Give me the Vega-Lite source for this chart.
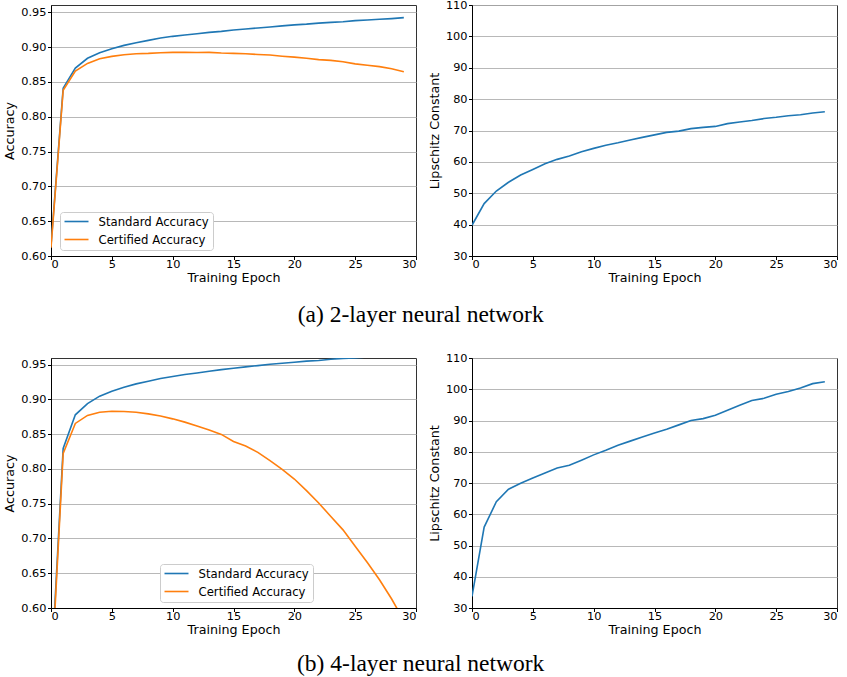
{
  "$schema": "https://vega.github.io/schema/vega-lite/v6.json",
  "padding": {"left": 3, "top": -2, "right": 0, "bottom": 0},
  "background": "white",
  "spacing": 24,
  "resolve": {"scale": {"color": "independent"}, "legend": {"color": "independent"}},
  "config": {
    "font": "DejaVu Sans",
    "view": {"stroke": "#333333", "strokeWidth": 1},
    "axis": {
      "labelFont": "DejaVu Sans", "labelFontSize": 11.3, "labelColor": "#000000",
      "titleFont": "DejaVu Sans", "titleFontSize": 12.7, "titleFontWeight": "normal", "titleColor": "#000000",
      "domainColor": "#000000", "tickColor": "#000000", "tickSize": 3.5, "labelPadding": 1.5,
      "gridColor": "#b0b0b0", "gridWidth": 0.9
    },
    "axisX": {"grid": false, "titlePadding": 2, "labelPadding": -1},
    "axisY": {"grid": true, "titlePadding": 4, "labelPadding": 1.5},
    "legend": {
      "labelFont": "DejaVu Sans", "labelFontSize": 11.7, "labelColor": "#000000",
      "fillColor": "#ffffff", "strokeColor": "#cccccc", "cornerRadius": 3, "padding": 3.5,
      "symbolType": "M-1,0H3.8", "symbolStrokeWidth": 1.6, "symbolSize": 100, "rowPadding": 5, "labelOffset": 23
    },
    "title": {"font": "Liberation Serif", "fontSize": 23.5, "fontWeight": "normal", "color": "#000000"},
    "concat": {"spacing": 10}
  },
  "datasets": {
    "acc2": [
      {"epoch": 0, "series": "Standard Accuracy", "value": 0.615},
      {"epoch": 1, "series": "Standard Accuracy", "value": 0.841},
      {"epoch": 2, "series": "Standard Accuracy", "value": 0.870},
      {"epoch": 3, "series": "Standard Accuracy", "value": 0.884},
      {"epoch": 4, "series": "Standard Accuracy", "value": 0.892},
      {"epoch": 5, "series": "Standard Accuracy", "value": 0.8977},
      {"epoch": 6, "series": "Standard Accuracy", "value": 0.9025},
      {"epoch": 7, "series": "Standard Accuracy", "value": 0.9063},
      {"epoch": 8, "series": "Standard Accuracy", "value": 0.9097},
      {"epoch": 9, "series": "Standard Accuracy", "value": 0.913},
      {"epoch": 10, "series": "Standard Accuracy", "value": 0.9155},
      {"epoch": 11, "series": "Standard Accuracy", "value": 0.9174},
      {"epoch": 12, "series": "Standard Accuracy", "value": 0.9193},
      {"epoch": 13, "series": "Standard Accuracy", "value": 0.9212},
      {"epoch": 14, "series": "Standard Accuracy", "value": 0.9226},
      {"epoch": 15, "series": "Standard Accuracy", "value": 0.9245},
      {"epoch": 16, "series": "Standard Accuracy", "value": 0.926},
      {"epoch": 17, "series": "Standard Accuracy", "value": 0.9275},
      {"epoch": 18, "series": "Standard Accuracy", "value": 0.929},
      {"epoch": 19, "series": "Standard Accuracy", "value": 0.9305},
      {"epoch": 20, "series": "Standard Accuracy", "value": 0.932},
      {"epoch": 21, "series": "Standard Accuracy", "value": 0.933},
      {"epoch": 22, "series": "Standard Accuracy", "value": 0.9345},
      {"epoch": 23, "series": "Standard Accuracy", "value": 0.9355},
      {"epoch": 24, "series": "Standard Accuracy", "value": 0.9365},
      {"epoch": 25, "series": "Standard Accuracy", "value": 0.938},
      {"epoch": 26, "series": "Standard Accuracy", "value": 0.939},
      {"epoch": 27, "series": "Standard Accuracy", "value": 0.940},
      {"epoch": 28, "series": "Standard Accuracy", "value": 0.941},
      {"epoch": 29, "series": "Standard Accuracy", "value": 0.9423},
      {"epoch": 0, "series": "Certified Accuracy", "value": 0.612},
      {"epoch": 1, "series": "Certified Accuracy", "value": 0.838},
      {"epoch": 2, "series": "Certified Accuracy", "value": 0.8656},
      {"epoch": 3, "series": "Certified Accuracy", "value": 0.8766},
      {"epoch": 4, "series": "Certified Accuracy", "value": 0.8833},
      {"epoch": 5, "series": "Certified Accuracy", "value": 0.8867},
      {"epoch": 6, "series": "Certified Accuracy", "value": 0.889},
      {"epoch": 7, "series": "Certified Accuracy", "value": 0.8905},
      {"epoch": 8, "series": "Certified Accuracy", "value": 0.891},
      {"epoch": 9, "series": "Certified Accuracy", "value": 0.892},
      {"epoch": 10, "series": "Certified Accuracy", "value": 0.8924},
      {"epoch": 11, "series": "Certified Accuracy", "value": 0.8924},
      {"epoch": 12, "series": "Certified Accuracy", "value": 0.8923},
      {"epoch": 13, "series": "Certified Accuracy", "value": 0.8925},
      {"epoch": 14, "series": "Certified Accuracy", "value": 0.8915},
      {"epoch": 15, "series": "Certified Accuracy", "value": 0.891},
      {"epoch": 16, "series": "Certified Accuracy", "value": 0.8905},
      {"epoch": 17, "series": "Certified Accuracy", "value": 0.8895},
      {"epoch": 18, "series": "Certified Accuracy", "value": 0.8886},
      {"epoch": 19, "series": "Certified Accuracy", "value": 0.887},
      {"epoch": 20, "series": "Certified Accuracy", "value": 0.8857},
      {"epoch": 21, "series": "Certified Accuracy", "value": 0.884},
      {"epoch": 22, "series": "Certified Accuracy", "value": 0.882},
      {"epoch": 23, "series": "Certified Accuracy", "value": 0.881},
      {"epoch": 24, "series": "Certified Accuracy", "value": 0.879},
      {"epoch": 25, "series": "Certified Accuracy", "value": 0.876},
      {"epoch": 26, "series": "Certified Accuracy", "value": 0.874},
      {"epoch": 27, "series": "Certified Accuracy", "value": 0.872},
      {"epoch": 28, "series": "Certified Accuracy", "value": 0.869},
      {"epoch": 29, "series": "Certified Accuracy", "value": 0.8646}
    ],
    "lip2": [
      {"epoch": 0, "value": 39.8}, {"epoch": 1, "value": 46.7}, {"epoch": 2, "value": 50.7},
      {"epoch": 3, "value": 53.5}, {"epoch": 4, "value": 55.8}, {"epoch": 5, "value": 57.6},
      {"epoch": 6, "value": 59.4}, {"epoch": 7, "value": 60.8}, {"epoch": 8, "value": 61.9},
      {"epoch": 9, "value": 63.2}, {"epoch": 10, "value": 64.3}, {"epoch": 11, "value": 65.3},
      {"epoch": 12, "value": 66.1}, {"epoch": 13, "value": 67.0}, {"epoch": 14, "value": 67.8},
      {"epoch": 15, "value": 68.6}, {"epoch": 16, "value": 69.4}, {"epoch": 17, "value": 69.8},
      {"epoch": 18, "value": 70.6}, {"epoch": 19, "value": 71.0}, {"epoch": 20, "value": 71.3},
      {"epoch": 21, "value": 72.2}, {"epoch": 22, "value": 72.7}, {"epoch": 23, "value": 73.2},
      {"epoch": 24, "value": 73.8}, {"epoch": 25, "value": 74.2}, {"epoch": 26, "value": 74.7},
      {"epoch": 27, "value": 75.0}, {"epoch": 28, "value": 75.6}, {"epoch": 29, "value": 76.0}
    ],
    "acc4": [
      {"epoch": 0, "series": "Standard Accuracy", "value": 0.50},
      {"epoch": 1, "series": "Standard Accuracy", "value": 0.8295},
      {"epoch": 2, "series": "Standard Accuracy", "value": 0.8778},
      {"epoch": 3, "series": "Standard Accuracy", "value": 0.894},
      {"epoch": 4, "series": "Standard Accuracy", "value": 0.9046},
      {"epoch": 5, "series": "Standard Accuracy", "value": 0.9118},
      {"epoch": 6, "series": "Standard Accuracy", "value": 0.9175},
      {"epoch": 7, "series": "Standard Accuracy", "value": 0.9223},
      {"epoch": 8, "series": "Standard Accuracy", "value": 0.9261},
      {"epoch": 9, "series": "Standard Accuracy", "value": 0.930},
      {"epoch": 10, "series": "Standard Accuracy", "value": 0.9328},
      {"epoch": 11, "series": "Standard Accuracy", "value": 0.9357},
      {"epoch": 12, "series": "Standard Accuracy", "value": 0.938},
      {"epoch": 13, "series": "Standard Accuracy", "value": 0.9404},
      {"epoch": 14, "series": "Standard Accuracy", "value": 0.9428},
      {"epoch": 15, "series": "Standard Accuracy", "value": 0.9447},
      {"epoch": 16, "series": "Standard Accuracy", "value": 0.9467},
      {"epoch": 17, "series": "Standard Accuracy", "value": 0.9486},
      {"epoch": 18, "series": "Standard Accuracy", "value": 0.9505},
      {"epoch": 19, "series": "Standard Accuracy", "value": 0.952},
      {"epoch": 20, "series": "Standard Accuracy", "value": 0.9534},
      {"epoch": 21, "series": "Standard Accuracy", "value": 0.955},
      {"epoch": 22, "series": "Standard Accuracy", "value": 0.956},
      {"epoch": 23, "series": "Standard Accuracy", "value": 0.9577},
      {"epoch": 24, "series": "Standard Accuracy", "value": 0.959},
      {"epoch": 25, "series": "Standard Accuracy", "value": 0.9597},
      {"epoch": 26, "series": "Standard Accuracy", "value": 0.961},
      {"epoch": 27, "series": "Standard Accuracy", "value": 0.962},
      {"epoch": 28, "series": "Standard Accuracy", "value": 0.9635},
      {"epoch": 29, "series": "Standard Accuracy", "value": 0.965},
      {"epoch": 0, "series": "Certified Accuracy", "value": 0.49},
      {"epoch": 1, "series": "Certified Accuracy", "value": 0.8223},
      {"epoch": 2, "series": "Certified Accuracy", "value": 0.8654},
      {"epoch": 3, "series": "Certified Accuracy", "value": 0.8769},
      {"epoch": 4, "series": "Certified Accuracy", "value": 0.8816},
      {"epoch": 5, "series": "Certified Accuracy", "value": 0.883},
      {"epoch": 6, "series": "Certified Accuracy", "value": 0.8826},
      {"epoch": 7, "series": "Certified Accuracy", "value": 0.8816},
      {"epoch": 8, "series": "Certified Accuracy", "value": 0.8792},
      {"epoch": 9, "series": "Certified Accuracy", "value": 0.876},
      {"epoch": 10, "series": "Certified Accuracy", "value": 0.872},
      {"epoch": 11, "series": "Certified Accuracy", "value": 0.8673},
      {"epoch": 12, "series": "Certified Accuracy", "value": 0.8616},
      {"epoch": 13, "series": "Certified Accuracy", "value": 0.8558},
      {"epoch": 14, "series": "Certified Accuracy", "value": 0.8496},
      {"epoch": 15, "series": "Certified Accuracy", "value": 0.8395},
      {"epoch": 16, "series": "Certified Accuracy", "value": 0.8329},
      {"epoch": 17, "series": "Certified Accuracy", "value": 0.8238},
      {"epoch": 18, "series": "Certified Accuracy", "value": 0.8118},
      {"epoch": 19, "series": "Certified Accuracy", "value": 0.7994},
      {"epoch": 20, "series": "Certified Accuracy", "value": 0.7855},
      {"epoch": 21, "series": "Certified Accuracy", "value": 0.7688},
      {"epoch": 22, "series": "Certified Accuracy", "value": 0.7511},
      {"epoch": 23, "series": "Certified Accuracy", "value": 0.7315},
      {"epoch": 24, "series": "Certified Accuracy", "value": 0.7124},
      {"epoch": 25, "series": "Certified Accuracy", "value": 0.6889},
      {"epoch": 26, "series": "Certified Accuracy", "value": 0.6655},
      {"epoch": 27, "series": "Certified Accuracy", "value": 0.6406},
      {"epoch": 28, "series": "Certified Accuracy", "value": 0.6129},
      {"epoch": 29, "series": "Certified Accuracy", "value": 0.582}
    ],
    "lip4": [
      {"epoch": 0, "value": 33.7}, {"epoch": 1, "value": 55.9}, {"epoch": 2, "value": 64.0},
      {"epoch": 3, "value": 68.0}, {"epoch": 4, "value": 69.9}, {"epoch": 5, "value": 71.6},
      {"epoch": 6, "value": 73.2}, {"epoch": 7, "value": 74.8}, {"epoch": 8, "value": 75.7},
      {"epoch": 9, "value": 77.3}, {"epoch": 10, "value": 79.0}, {"epoch": 11, "value": 80.5},
      {"epoch": 12, "value": 82.1}, {"epoch": 13, "value": 83.4}, {"epoch": 14, "value": 84.7},
      {"epoch": 15, "value": 86.0}, {"epoch": 16, "value": 87.2}, {"epoch": 17, "value": 88.6},
      {"epoch": 18, "value": 90.0}, {"epoch": 19, "value": 90.6}, {"epoch": 20, "value": 91.7},
      {"epoch": 21, "value": 93.3}, {"epoch": 22, "value": 94.9}, {"epoch": 23, "value": 96.4},
      {"epoch": 24, "value": 97.1}, {"epoch": 25, "value": 98.4}, {"epoch": 26, "value": 99.3},
      {"epoch": 27, "value": 100.4}, {"epoch": 28, "value": 101.8}, {"epoch": 29, "value": 102.4}
    ]
  },
  "vconcat": [
    {
      "title": {"text": "(a) 2-layer neural network", "orient": "bottom", "anchor": "middle", "offset": 18},
      "hconcat": [
        {
          "width": 365, "height": 251,
          "data": {"name": "acc2"},
          "mark": {"type": "line", "strokeWidth": 1.6, "clip": true},
          "encoding": {
            "x": {"field": "epoch", "type": "quantitative", "title": "Training Epoch",
                  "scale": {"domain": [0, 30], "nice": false, "zero": false},
                  "axis": {"values": [0, 5, 10, 15, 20, 25, 30]}},
            "y": {"field": "value", "type": "quantitative", "title": "Accuracy",
                  "scale": {"domain": [0.6, 0.9605], "nice": false, "zero": false},
                  "axis": {"values": [0.6, 0.65, 0.7, 0.75, 0.8, 0.85, 0.9, 0.95], "format": ".2f"}},
            "color": {"field": "series", "type": "nominal",
                      "scale": {"domain": ["Standard Accuracy", "Certified Accuracy"], "range": ["#1f77b4", "#ff7f0e"]},
                      "legend": {"title": null, "orient": "none", "legendX": 9, "legendY": 207}}
          }
        },
        {
          "width": 365, "height": 251,
          "data": {"name": "lip2"},
          "mark": {"type": "line", "strokeWidth": 1.6, "color": "#1f77b4", "clip": true},
          "encoding": {
            "x": {"field": "epoch", "type": "quantitative", "title": "Training Epoch",
                  "scale": {"domain": [0, 30], "nice": false, "zero": false},
                  "axis": {"values": [0, 5, 10, 15, 20, 25, 30]}},
            "y": {"field": "value", "type": "quantitative", "title": "Lipschitz Constant",
                  "scale": {"domain": [30, 110], "nice": false, "zero": false},
                  "axis": {"values": [30, 40, 50, 60, 70, 80, 90, 100, 110]}}
          }
        }
      ]
    },
    {
      "title": {"text": "(b) 4-layer neural network", "orient": "bottom", "anchor": "middle", "offset": 15},
      "hconcat": [
        {
          "width": 365, "height": 250,
          "data": {"name": "acc4"},
          "mark": {"type": "line", "strokeWidth": 1.6, "clip": true},
          "encoding": {
            "x": {"field": "epoch", "type": "quantitative", "title": "Training Epoch",
                  "scale": {"domain": [0, 30], "nice": false, "zero": false},
                  "axis": {"values": [0, 5, 10, 15, 20, 25, 30]}},
            "y": {"field": "value", "type": "quantitative", "title": "Accuracy",
                  "scale": {"domain": [0.6, 0.9595], "nice": false, "zero": false},
                  "axis": {"values": [0.6, 0.65, 0.7, 0.75, 0.8, 0.85, 0.9, 0.95], "format": ".2f"}},
            "color": {"field": "series", "type": "nominal",
                      "scale": {"domain": ["Standard Accuracy", "Certified Accuracy"], "range": ["#1f77b4", "#ff7f0e"]},
                      "legend": {"title": null, "orient": "none", "legendX": 109, "legendY": 206}}
          }
        },
        {
          "width": 365, "height": 250,
          "data": {"name": "lip4"},
          "mark": {"type": "line", "strokeWidth": 1.6, "color": "#1f77b4", "clip": true},
          "encoding": {
            "x": {"field": "epoch", "type": "quantitative", "title": "Training Epoch",
                  "scale": {"domain": [0, 30], "nice": false, "zero": false},
                  "axis": {"values": [0, 5, 10, 15, 20, 25, 30]}},
            "y": {"field": "value", "type": "quantitative", "title": "Lipschitz Constant",
                  "scale": {"domain": [30, 110], "nice": false, "zero": false},
                  "axis": {"values": [30, 40, 50, 60, 70, 80, 90, 100, 110]}}
          }
        }
      ]
    }
  ]
}
